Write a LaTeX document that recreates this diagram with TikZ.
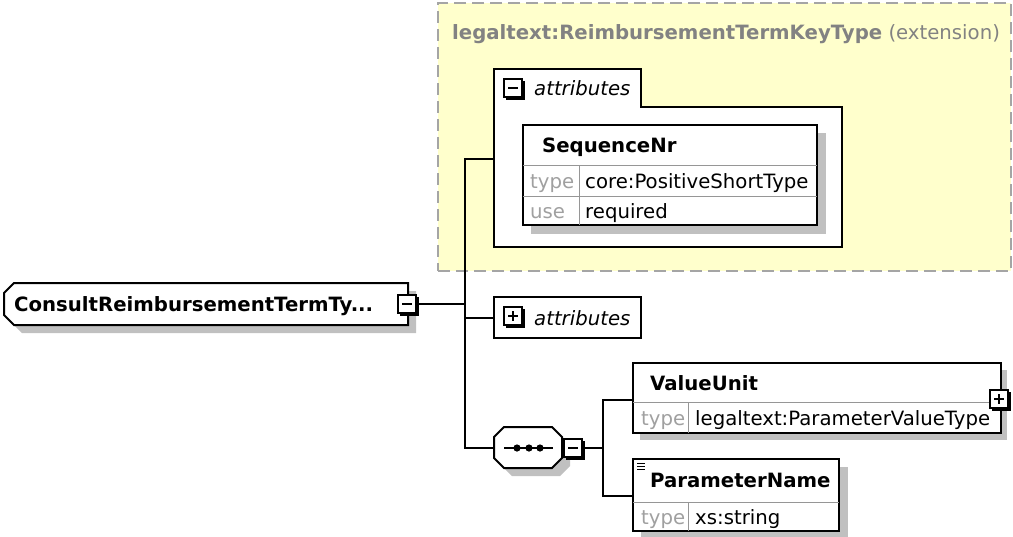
\documentclass[tikz,border=0pt]{standalone}
\usepackage{fontspec}
\setmainfont{DejaVu Sans}
\definecolor{shadowgray}{RGB}{192,192,192}
\definecolor{ylw}{RGB}{255,255,204}
\definecolor{dashgray}{RGB}{165,165,165}
\definecolor{lblgray}{RGB}{160,160,160}
\definecolor{titlegray}{RGB}{130,130,130}
\definecolor{rowgray}{RGB}{150,150,150}
\newcommand\fs{\fontsize{19.7}{23}\selectfont}
\newcommand\minicon[3]{%
  \fill[black] (#2+3,#3+3) rectangle (#2+22,#3+22);
  \node[draw=black, fill=white, line width=2pt, minimum size=18pt, anchor=north west, inner sep=0pt, outer sep=0pt] (#1) at (#2+1,#3+1) {};
  \draw[line width=2pt] (#2+5,#3+10) -- (#2+15,#3+10);}
\newcommand\plusicon[3]{\minicon{#1}{#2}{#3}\draw[line width=2pt] (#2+10,#3+5) -- (#2+10,#3+15);}
\begin{document}
\begin{tikzpicture}[x=1pt,y=-1pt,
  conn/.style={line width=2pt, draw=black},
  bord/.style={draw=black, line width=2pt, fill=white},
  shad/.style={fill=shadowgray, draw=none},
  sep/.style={draw=rowgray, line width=1pt},
  txt/.style={inner sep=0pt, anchor=base west, font=\fs},
  hdr/.style={txt, font=\fs\bfseries},
  lbl/.style={txt, text=lblgray},
  anch/.style={inner sep=0pt, outer sep=0pt, anchor=north west}]
\useasboundingbox (0,0) rectangle (1013,536);

% extension box
\node[anch, draw=dashgray, dash pattern=on 12pt off 6pt, fill=ylw, line width=2pt, minimum width=573pt, minimum height=268pt] (ext) at (438,3) {};
\node[txt, text=titlegray] (exttitle) at (452,39) {\bfseries legaltext:ReimbursementTermKeyType\mdseries\ (extension)};

% attributes group (expanded)
\draw[bord] (494,69) -- (641,69) -- (641,107) -- (842,107) -- (842,247) -- (494,247) -- cycle;
\node[anch, minimum width=348pt, minimum height=178pt] (grp) at (494,69) {};
\coordinate (grpin) at (494,159);
\node[txt, font=\fs\itshape] (grplbl) at (534,95) {attributes};

% SequenceNr
\fill[shad] (531,133) rectangle (826,234);
\node[anch, bord, minimum width=294pt, minimum height=100pt] (seqnr) at (523,125) {};
\draw[sep] (523,165) -- (817,165);
\draw[sep] (523,196) -- (817,196);
\draw[sep] (579,165) -- (579,225);
\node[hdr] (seqnrh) at (542,152) {SequenceNr};
\node[lbl] (seqt) at (530,188) {type};
\node[txt] (seqtv) at (585,188) {core:PositiveShortType};
\node[lbl] (sequ) at (530,218) {use};
\node[txt] (sequv) at (585,218) {required};

% main element
\fill[shad] (22,291) -- (416,291) -- (416,333) -- (22,333) -- (12,323) -- (12,301) -- cycle;
\draw[bord] (14,283) -- (408,283) -- (408,325) -- (14,325) -- (4,315) -- (4,293) -- cycle;
\node[anch, minimum width=404pt, minimum height=42pt] (main) at (4,283) {};
\node[hdr] (maintxt) at (14,311) {ConsultReimbursementTermTy...};

% collapsed attributes
\node[anch, bord, minimum width=147pt, minimum height=41pt] (attr2) at (494,297) {};
\node[txt, font=\fs\itshape] (attr2lbl) at (534,325) {attributes};

% compositor
\fill[shad] (512,435) -- (560,435) -- (570,445) -- (570,466) -- (560,476) -- (512,476) -- (502,466) -- (502,445) -- cycle;
\draw[bord] (504,427) -- (552,427) -- (562,437) -- (562,458) -- (552,468) -- (504,468) -- (494,458) -- (494,437) -- cycle;
\node[anch, minimum width=68pt, minimum height=42pt] (comp) at (494,427) {};
\draw[line width=2pt] (504,448) -- (553,448);
\foreach \dx in {517,529,540} \fill (\dx,448) circle (3.6pt);

% ValueUnit
\fill[shad] (640,370) rectangle (1007,440);
\node[anch, bord, minimum width=368pt, minimum height=70pt] (vu) at (633,363) {};
\draw[sep] (633,402) -- (1001,402);
\draw[sep] (688,402) -- (688,433);
\node[hdr] (vuh) at (650,390) {ValueUnit};
\node[lbl] (vut) at (641,425) {type};
\node[txt] (vutv) at (695,425) {legaltext:ParameterValueType};
\coordinate (vuin) at (633,400);

% ParameterName
\fill[shad] (641,467) rectangle (848,540);
\node[anch, bord, minimum width=206pt, minimum height=72pt] (pn) at (633,459) {};
\draw[sep] (633,502) -- (839,502);
\draw[sep] (688,502) -- (688,531);
\foreach \yy in {463,466,469} \draw[line width=1pt] (637,\yy) -- (645,\yy);
\node[hdr] (pnh) at (650,487) {ParameterName};
\node[lbl] (pnt) at (641,524) {type};
\node[txt] (pntv) at (695,524) {xs:string};
\coordinate (pnin) at (633,496);

% connectors
\coordinate (bus) at (465,0);
\coordinate (bus2) at (603,0);
\draw[conn] (main.east |- 0,304) -- (465,304);
\draw[conn] (grpin) -- (grpin -| bus) -- (comp.west -| bus) -- (comp.west);
\draw[conn] (attr2.west) -- (attr2.west -| bus);
\draw[conn] (vuin) -- (vuin -| bus2) -- (pnin -| bus2) -- (pnin);

% icons
\minicon{grpic}{503}{78}
\minicon{mainic}{397}{294}
\plusicon{attr2ic}{503}{306}
\minicon{compic}{563}{438}
\plusicon{vuic}{989}{389}
\draw[conn] (compic.east) -- (compic.east -| bus2);
\end{tikzpicture}
\end{document}
